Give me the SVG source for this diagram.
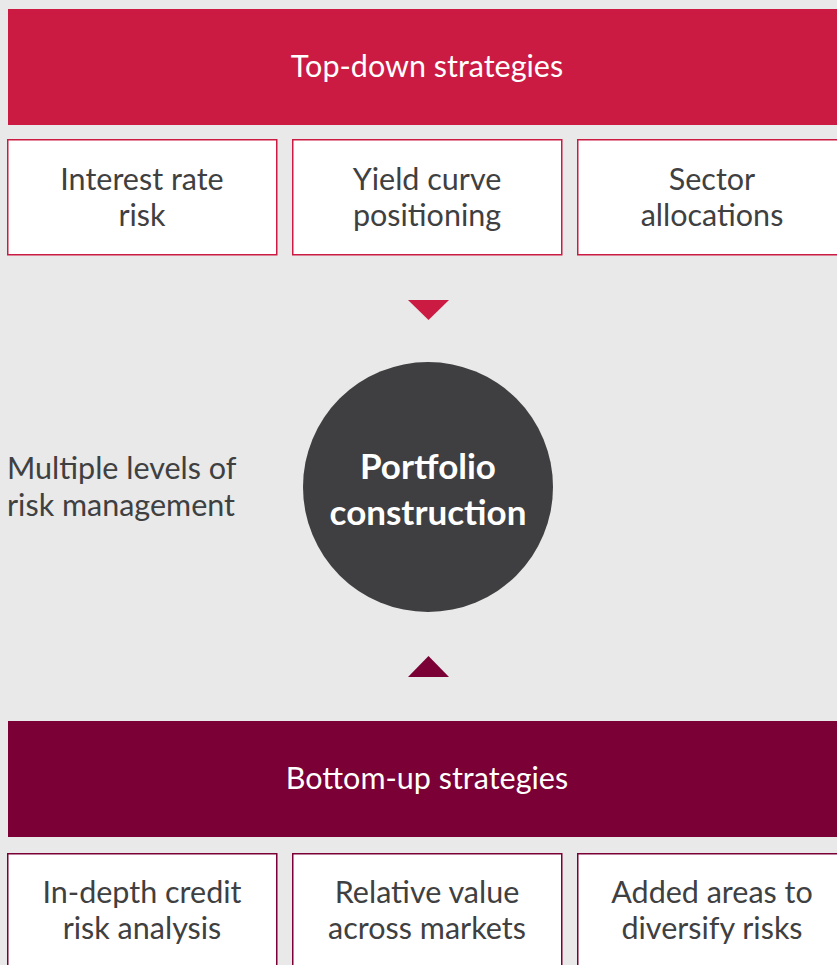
<svg xmlns="http://www.w3.org/2000/svg" width="837" height="965" viewBox="0 0 837 965">
<style>
.t{font-family:Lato,"Open Sans","Liberation Sans",sans-serif;font-size:30.5px;fill:#3f4041;text-anchor:middle}
.w{fill:#ffffff}
.b{font-weight:bold;font-size:35px}
.l{text-anchor:start}
.bt{fill:#ffffff;stroke:#cc1b43;stroke-width:1.5}
.bb{fill:#ffffff;stroke:#7a0036;stroke-width:1.5}
</style>
<rect width="837" height="965" fill="#e8e9e8"/>
<g id="top-banner">
<rect x="8" y="9" width="829" height="116" fill="#cc1b43"/>
<text class="t w" x="427" y="77">Top-down strategies</text>
</g>
<g id="interest-rate-risk">
<rect class="bt" x="7.75" y="139.75" width="269" height="115"/>
<text class="t" x="142" y="190">Interest rate</text>
<text class="t" x="142" y="226">risk</text>
</g>
<g id="yield-curve">
<rect class="bt" x="292.75" y="139.75" width="269" height="115"/>
<text class="t" x="427" y="190">Yield curve</text>
<text class="t" x="427" y="226">positioning</text>
</g>
<g id="sector-allocations">
<rect class="bt" x="577.75" y="139.75" width="270" height="115"/>
<text class="t" x="712" y="190">Sector</text>
<text class="t" x="712" y="226">allocations</text>
</g>
<g id="connectors">
<polygon points="408,300 449,300 428.5,320" fill="#cc1b43"/>
<polygon points="408,677 449,677 428.5,656" fill="#7a0036"/>
</g>
<g id="side-label">
<text class="t l" x="7" y="479">Multiple levels of</text>
<text class="t l" x="7" y="516">risk management</text>
</g>
<g id="portfolio-construction">
<circle cx="428" cy="487" r="125" fill="#3f3f41"/>
<text class="t w b" x="428" y="479">Portfolio</text>
<text class="t w b" x="428" y="525">construction</text>
</g>
<g id="bottom-banner">
<rect x="8" y="721" width="829" height="116" fill="#7a0036"/>
<text class="t w" x="427" y="789">Bottom-up strategies</text>
</g>
<g id="credit-risk">
<rect class="bb" x="7.75" y="853.75" width="269" height="120"/>
<text class="t" x="142" y="903">In-depth credit</text>
<text class="t" x="142" y="939">risk analysis</text>
</g>
<g id="relative-value">
<rect class="bb" x="292.75" y="853.75" width="269" height="120"/>
<text class="t" x="427" y="903">Relative value</text>
<text class="t" x="427" y="939">across markets</text>
</g>
<g id="diversify">
<rect class="bb" x="577.75" y="853.75" width="270" height="120"/>
<text class="t" x="712" y="903">Added areas to</text>
<text class="t" x="712" y="939">diversify risks</text>
</g>
</svg>
